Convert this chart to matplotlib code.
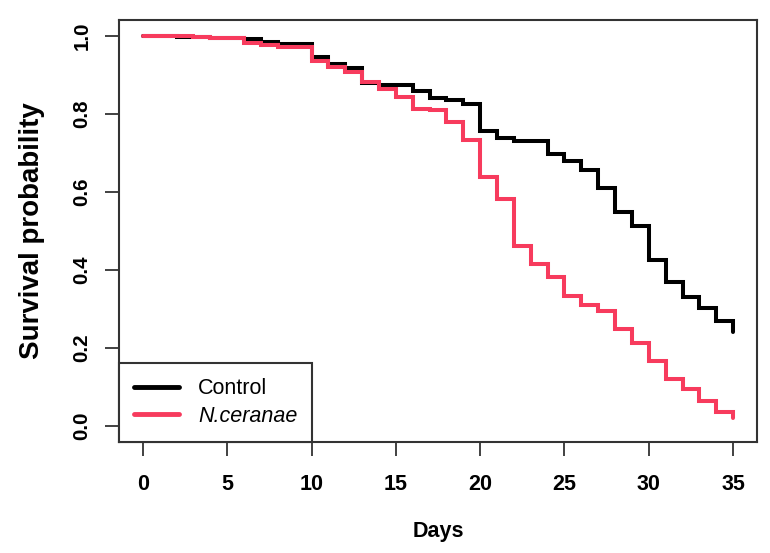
import matplotlib
matplotlib.use("Agg")
import matplotlib.pyplot as plt

days = list(range(0, 36))
control = [1.000, 1.000, 0.997, 0.997, 0.994, 0.994, 0.991, 0.983, 0.979, 0.979,
           0.944, 0.928, 0.917, 0.879, 0.873, 0.873, 0.857, 0.840, 0.834, 0.826,
           0.755, 0.738, 0.730, 0.730, 0.698, 0.680, 0.656, 0.609, 0.549, 0.512,
           0.425, 0.368, 0.330, 0.302, 0.268, 0.242]
nceranae = [1.000, 1.000, 1.000, 0.997, 0.993, 0.993, 0.982, 0.976, 0.970, 0.970,
            0.936, 0.919, 0.908, 0.881, 0.864, 0.843, 0.813, 0.809, 0.779, 0.732,
            0.639, 0.582, 0.462, 0.415, 0.383, 0.333, 0.310, 0.296, 0.248, 0.214,
            0.166, 0.121, 0.095, 0.064, 0.036, 0.021]
series_labels = ["Control", "N.ceranae"]
x_ticks = [0, 5, 10, 15, 20, 25, 30, 35]
y_ticks = [0.0, 0.2, 0.4, 0.6, 0.8, 1.0]

plt.rcParams['font.family'] = ['Liberation Sans', 'DejaVu Sans']

fig = plt.figure(figsize=(7.7, 5.53), dpi=100)
ax = fig.add_axes([119.3/770, 1-441.7/553, (756.7-119.3)/770, (441.7-20)/553])

red = "#F73B5D"
ax.step(days, control, where='post', color='black', lw=2.9, label=series_labels[0],
        solid_joinstyle='miter', solid_capstyle='round')
ax.step(days, nceranae, where='post', color=red, lw=2.9, label=series_labels[1],
        solid_joinstyle='miter', solid_capstyle='round')

ax.set_xlim(-1.4, 36.4)
ax.set_ylim(-0.04, 1.04)
ax.set_xticks(x_ticks)
ax.set_yticks(y_ticks)
ax.set_xticklabels([str(t) for t in x_ticks], fontsize=15.5, fontweight='bold')
ax.set_yticklabels([f"{t:.1f}" for t in y_ticks], fontsize=14.8, fontweight='bold',
                   rotation=90, va='center')
ax.tick_params(axis='both', length=10, width=1.3, color='#333333', direction='out')
ax.tick_params(axis='x', pad=13)
ax.tick_params(axis='y', pad=10)
for s in ax.spines.values():
    s.set_linewidth(1.5)
    s.set_color('#333333')

ax.set_xlabel("Days", fontsize=15.5, fontweight='bold', labelpad=19)
ax.set_ylabel("Survival probability", fontsize=20, fontweight='bold', labelpad=20)

leg = ax.legend(loc='lower left', bbox_to_anchor=(0, 0), borderaxespad=0,
                fontsize=15.5, handlelength=2.05, handletextpad=0.9,
                borderpad=0.7, labelspacing=0.3, fancybox=False, framealpha=1,
                edgecolor='#333333')
leg.get_frame().set_linewidth(1.5)
leg.get_texts()[1].set_fontstyle('italic')
for h in leg.get_lines():
    h.set_linewidth(3.5)

fig.savefig("out.png", dpi=100)
